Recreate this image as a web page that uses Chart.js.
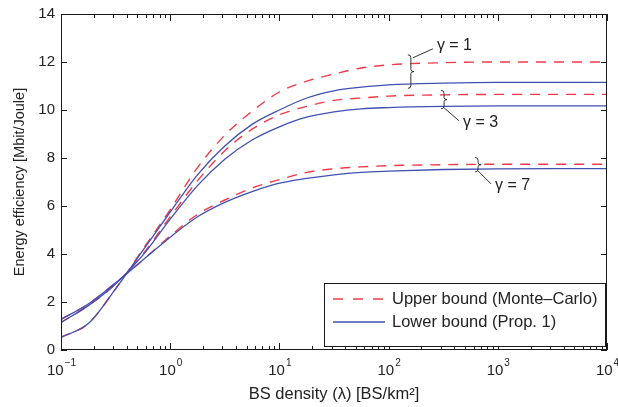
<!DOCTYPE html>
<html>
<head>
<meta charset="utf-8">
<script src="https://cdn.jsdelivr.net/npm/chart.js@4.4.0/dist/chart.umd.min.js"></script>
<style>
  html, body { margin: 0; padding: 0; background: #fff; }
  #wrap { width: 618px; height: 407px; }
</style>
</head>
<body>
<div id="wrap"><canvas id="eeChart" width="618" height="407"></canvas></div>
<script>
// log10 of the BS density at each sample
var densityExp = [-1, -0.75, -0.5, -0.25, 0, 0.25, 0.5, 0.75, 1, 1.25, 1.5, 1.75, 2, 2.5, 3, 3.5, 4]

// energy efficiency [Mbit/Joule]
var upperG1 = [0.53, 1.1, 2.55, 4.2, 5.85, 7.6, 8.95, 9.95, 10.75, 11.2, 11.5, 11.75, 11.88, 11.97, 12.0, 12.0, 12.0]
var lowerG1 = [0.53, 1.1, 2.55, 4.15, 5.75, 7.3, 8.5, 9.4, 10.0, 10.5, 10.8, 10.95, 11.05, 11.12, 11.15, 11.15, 11.15]
var upperG3 = [1.15, 1.85, 2.75, 4.0, 5.55, 7.05, 8.3, 9.2, 9.8, 10.15, 10.4, 10.5, 10.58, 10.63, 10.65, 10.65, 10.65]
var lowerG3 = [1.15, 1.85, 2.75, 3.95, 5.45, 6.85, 7.95, 8.75, 9.3, 9.7, 9.92, 10.05, 10.1, 10.15, 10.17, 10.17, 10.17]
var upperG7 = [1.28, 1.92, 2.8, 3.75, 4.75, 5.65, 6.25, 6.75, 7.1, 7.4, 7.55, 7.63, 7.68, 7.72, 7.74, 7.74, 7.74]
var lowerG7 = [1.28, 1.92, 2.8, 3.75, 4.7, 5.55, 6.15, 6.6, 6.95, 7.15, 7.3, 7.4, 7.45, 7.52, 7.55, 7.56, 7.56]

var xTickExp = [-1, 0, 1, 2, 3, 4]
var yTicks = [0, 2, 4, 6, 8, 10, 12, 14]

var legendLabels = ['Upper bound (Monte\u2013Carlo)', 'Lower bound (Prop. 1)']
var gammaLabels = ['\u03b3 = 1', '\u03b3 = 3', '\u03b3 = 7']

var RED = '#ef3b48'
var BLUE = '#4150b3'
var FONT = '"Liberation Sans", Arial, sans-serif'

function pts(ys) {
  return ys.map(function (y, i) { return { x: Math.pow(10, densityExp[i]), y: y } })
}

function lowerSet(ys) {
  return { data: pts(ys), borderColor: BLUE, borderWidth: 1.3, pointRadius: 0, cubicInterpolationMode: 'monotone' }
}
function upperSet(ys) {
  return { data: pts(ys), borderColor: RED, borderWidth: 1.4, borderDash: [10, 8], pointRadius: 0, cubicInterpolationMode: 'monotone' }
}

// braces: density, top and bottom of the bracket, then leader / label offsets in px
var braces = [
  { lam: 160, top: 12.3, bot: 10.9, from: 'top', dx: 20, dy: -9, text: gammaLabels[0] },
  { lam: 322, top: 10.82, bot: 10.05, from: 'bot', dx: 15, dy: 13, text: gammaLabels[1] },
  { lam: 660, top: 8.02, bot: 7.42, from: 'bot', dx: 13, dy: 13, text: gammaLabels[2] }
]

function drawBrace(c, x, t, b) {
  var m = (t + b) / 2
  c.beginPath()
  c.moveTo(x - 3, t)
  c.quadraticCurveTo(x, t, x, t + 3)
  c.lineTo(x, m - 2)
  c.quadraticCurveTo(x, m, x + 3, m)
  c.quadraticCurveTo(x, m, x, m + 2)
  c.lineTo(x, b - 3)
  c.quadraticCurveTo(x, b, x - 3, b)
  c.stroke()
}

var frame = {
  id: 'frame',
  afterDraw: function (chart) {
    var c = chart.ctx, a = chart.chartArea
    var xs = chart.scales.x, ys = chart.scales.y
    c.save()
    c.strokeStyle = '#1a1a1a'
    c.lineWidth = 1
    c.strokeRect(a.left + 0.5, a.top + 0.5, a.right - a.left - 1, a.bottom - a.top - 1)

    // inward ticks on all four sides
    c.beginPath()
    yTicks.forEach(function (v) {
      var py = Math.round(ys.getPixelForValue(v)) + 0.5
      c.moveTo(a.left, py); c.lineTo(a.left + 6, py)
      c.moveTo(a.right, py); c.lineTo(a.right - 6, py)
    })
    for (var e = -1; e <= 4; e++) {
      for (var m = 1; m <= 9; m++) {
        if (e === 4 && m > 1) break
        var px = Math.round(xs.getPixelForValue(m * Math.pow(10, e))) + 0.5
        var len = m === 1 ? 7 : 4
        c.moveTo(px, a.bottom); c.lineTo(px, a.bottom - len)
        c.moveTo(px, a.top); c.lineTo(px, a.top + len)
      }
    }
    c.stroke()

    // tick labels
    c.fillStyle = '#222'
    c.font = '15px ' + FONT
    c.textAlign = 'right'
    c.textBaseline = 'middle'
    yTicks.forEach(function (v) {
      c.fillText(String(v), a.left - 6, ys.getPixelForValue(v))
    })
    c.textBaseline = 'alphabetic'
    c.textAlign = 'left'
    xTickExp.forEach(function (e) {
      var px = xs.getPixelForValue(Math.pow(10, e))
      var sup = e < 0 ? '\u2212' + (-e) : String(e)
      c.font = '15px ' + FONT
      var w1 = c.measureText('10').width
      c.font = '10px ' + FONT
      var w2 = c.measureText(sup).width
      var x0 = px - (w1 + w2) / 2
      c.font = '15px ' + FONT
      c.fillText('10', x0, a.bottom + 25)
      c.font = '10px ' + FONT
      c.fillText(sup, x0 + w1 + 1, a.bottom + 16)
    })

    // axis titles
    c.textAlign = 'center'
    c.font = '16.5px ' + FONT
    c.fillText('BS density (\u03bb) [BS/km\u00b2]', (a.left + a.right) / 2, a.bottom + 49)
    c.save()
    c.font = '14.5px ' + FONT
    c.textBaseline = 'middle'
    c.translate(20, (a.top + a.bottom) / 2)
    c.rotate(-Math.PI / 2)
    c.fillText('Energy efficiency [Mbit/Joule]', 0, 0)
    c.restore()

    // gamma brackets
    c.strokeStyle = '#333'
    c.lineWidth = 1
    c.font = '16px ' + FONT
    c.textAlign = 'left'
    c.textBaseline = 'middle'
    braces.forEach(function (br) {
      var bx = xs.getPixelForValue(br.lam)
      var bt = ys.getPixelForValue(br.top)
      var bb = ys.getPixelForValue(br.bot)
      drawBrace(c, bx, bt, bb)
      var sx = br.from === 'top' ? bx + 2 : bx
      var sy = br.from === 'top' ? bt + 3 : bb - 1
      c.beginPath()
      c.moveTo(sx, sy)
      c.lineTo(sx + br.dx, sy + br.dy)
      c.stroke()
      c.fillText(br.text, sx + br.dx + 4, sy + br.dy + (br.from === 'top' ? -3 : 2))
    })

    // legend box
    var lx = a.right - 283, ly = a.bottom - 67
    c.fillStyle = '#fff'
    c.fillRect(lx, ly, 281, 63)
    c.strokeStyle = '#1a1a1a'
    c.strokeRect(lx + 0.5, ly + 0.5, 281, 63)
    c.lineWidth = 1.4
    c.strokeStyle = RED
    c.setLineDash([10, 10])
    c.beginPath(); c.moveTo(lx + 9, ly + 16); c.lineTo(lx + 59, ly + 16); c.stroke()
    c.setLineDash([])
    c.strokeStyle = BLUE
    c.lineWidth = 1.3
    c.beginPath(); c.moveTo(lx + 9, ly + 39); c.lineTo(lx + 61, ly + 39); c.stroke()
    c.fillStyle = '#222'
    c.font = '16.5px ' + FONT
    c.fillText(legendLabels[0], lx + 68, ly + 16)
    c.fillText(legendLabels[1], lx + 68, ly + 39)
    c.restore()
  }
}

new Chart(document.getElementById('eeChart').getContext('2d'), {
  type: 'line',
  data: {
    datasets: [
      lowerSet(lowerG1), lowerSet(lowerG3), lowerSet(lowerG7),
      upperSet(upperG1), upperSet(upperG3), upperSet(upperG7)
    ]
  },
  options: {
    responsive: false,
    animation: { duration: 0 },
    layout: { padding: { left: 61, right: 11, top: 14, bottom: 57 } },
    plugins: { legend: { display: false }, tooltip: { enabled: false } },
    scales: {
      x: { type: 'logarithmic', min: 0.1, max: 10000, display: false },
      y: { type: 'linear', min: 0, max: 14, display: false }
    }
  },
  plugins: [frame]
})
</script>
</body>
</html>
